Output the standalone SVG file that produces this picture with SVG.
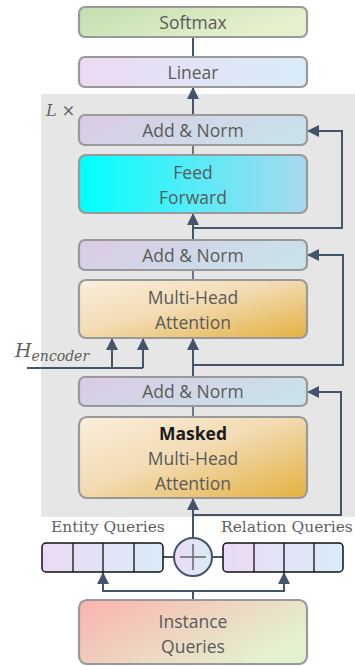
<svg xmlns="http://www.w3.org/2000/svg" width="355" height="666" viewBox="0 0 355 666">
<defs>
<linearGradient id="gSoft" x1="0" y1="0" x2="1" y2="0.4"><stop offset="0" stop-color="#c2deae"/><stop offset="1" stop-color="#e7f1cf"/></linearGradient>
<linearGradient id="gLin" x1="0" y1="0" x2="1" y2="0"><stop offset="0" stop-color="#ecdaf5"/><stop offset="1" stop-color="#d8ecf8"/></linearGradient>
<linearGradient id="gAdd" x1="0" y1="0" x2="1" y2="0.3"><stop offset="0" stop-color="#dccae4"/><stop offset="1" stop-color="#c8e1ea"/></linearGradient>
<linearGradient id="gFF" x1="0" y1="0" x2="1" y2="0"><stop offset="0" stop-color="#00ffff"/><stop offset="1" stop-color="#aad8ee"/></linearGradient>
<linearGradient id="gMHA" x1="0" y1="0" x2="1" y2="1"><stop offset="0" stop-color="#fbeedc"/><stop offset="0.45" stop-color="#f3dcb5"/><stop offset="1" stop-color="#e3b13f"/></linearGradient>
<linearGradient id="gInst" x1="0" y1="0" x2="1" y2="0.5"><stop offset="0" stop-color="#fab3ae"/><stop offset="1" stop-color="#e4f1d0"/></linearGradient>
<linearGradient id="gQ" x1="0" y1="0" x2="1" y2="0"><stop offset="0" stop-color="#ecdaf5"/><stop offset="1" stop-color="#d8ecf8"/></linearGradient>
<marker id="arr" viewBox="0 0 12 12" refX="12" refY="6" markerWidth="12" markerHeight="12" orient="auto" markerUnits="userSpaceOnUse"><path d="M0,0 L12,6 L0,12 z" fill="#44546a"/></marker>
</defs>
<style>
.box{stroke:#999999;stroke-width:2.2}
.t{font-family:"Open Sans","Noto Sans",sans-serif;font-size:17.5px;fill:#5a5a5a;text-anchor:middle}
.b{font-weight:bold;fill:#1a1a1a}
.s{font-family:"DejaVu Serif","Liberation Serif",serif;font-size:15.5px;fill:#5f5f5f}
.c{fill:none;stroke:#44546a;stroke-width:2}
.cl{fill:none;stroke:#44546a;stroke-width:1.5}
.q{fill:url(#gQ);stroke:#111;stroke-width:1.5}
.qd{stroke:#111;stroke-width:1.3}
</style>
<rect x="41" y="94" width="314" height="423" fill="#e6e6e6"/>
<text x="46" y="116" font-family="DejaVu Serif,serif" font-style="italic" font-size="16" fill="#5f5f5f">L ×</text>
<text x="15" y="357" font-family="DejaVu Serif,serif" font-style="italic" font-size="19" fill="#5f5f5f">H<tspan font-size="14" dy="4">encoder</tspan></text>

<g id="connectors">
<line class="c" x1="193" y1="37" x2="193" y2="57"/>
<line class="c" x1="193" y1="115" x2="193" y2="87" marker-end="url(#arr)"/>
<line class="cl" x1="193" y1="145" x2="193" y2="155"/>
<line class="c" x1="193" y1="240" x2="193" y2="213" marker-end="url(#arr)"/>
<polyline class="c" points="193,228 342,228 342,131 307,131" marker-end="url(#arr)"/>
<line class="cl" x1="193" y1="270" x2="193" y2="280"/>
<line class="c" x1="193" y1="377" x2="193" y2="338" marker-end="url(#arr)"/>
<polyline class="c" points="193,365 343,365 343,255 307,255" marker-end="url(#arr)"/>
<polyline class="c" points="27,368 143,368"/>
<line class="c" x1="112" y1="368" x2="112" y2="338" marker-end="url(#arr)"/>
<line class="c" x1="143" y1="368" x2="143" y2="338" marker-end="url(#arr)"/>
<line class="cl" x1="193" y1="406" x2="193" y2="417"/>
<line class="c" x1="193" y1="538" x2="193" y2="498" marker-end="url(#arr)"/>
<polyline class="c" points="193,515 341,515 341,392 307,392" marker-end="url(#arr)"/>
<line class="c" x1="163" y1="557" x2="174" y2="557"/>
<line class="c" x1="212" y1="557" x2="223" y2="557"/>
<line class="c" x1="193" y1="600" x2="193" y2="591"/>
<polyline class="c" points="103,580 103,591 284,591 284,580"/>
<line class="c" x1="103" y1="591" x2="103" y2="572" marker-end="url(#arr)"/>
<line class="c" x1="284" y1="591" x2="284" y2="572" marker-end="url(#arr)"/>
</g>

<g id="softmax"><rect class="box" x="79" y="7" width="228" height="30" rx="6" fill="url(#gSoft)"/><text class="t" x="193" y="28.5">Softmax</text></g>
<g id="linear"><rect class="box" x="79" y="57" width="228" height="30" rx="6" fill="url(#gLin)"/><text class="t" x="193" y="78.5">Linear</text></g>
<g id="addnorm1"><rect class="box" x="79" y="115" width="228" height="30" rx="6" fill="url(#gAdd)"/><text class="t" x="193" y="136.5">Add &amp; Norm</text></g>
<g id="feedforward"><rect class="box" x="79" y="155" width="228" height="58" rx="7" fill="url(#gFF)"/><text class="t" x="193" y="179">Feed</text><text class="t" x="193" y="204">Forward</text></g>
<g id="addnorm2"><rect class="box" x="79" y="240" width="228" height="30" rx="6" fill="url(#gAdd)"/><text class="t" x="193" y="261.5">Add &amp; Norm</text></g>
<g id="mha"><rect class="box" x="79" y="280" width="228" height="58" rx="7" fill="url(#gMHA)"/><text class="t" x="193" y="304">Multi-Head</text><text class="t" x="193" y="329">Attention</text></g>
<g id="addnorm3"><rect class="box" x="79" y="377" width="228" height="29" rx="6" fill="url(#gAdd)"/><text class="t" x="193" y="398">Add &amp; Norm</text></g>
<g id="masked-mha"><rect class="box" x="79" y="417" width="228" height="81" rx="8" fill="url(#gMHA)"/><text class="t b" x="193" y="440">Masked</text><text class="t" x="193" y="465">Multi-Head</text><text class="t" x="193" y="490">Attention</text></g>

<g id="entity-queries">
<text class="s" x="51" y="532">Entity Queries</text>
<rect class="q" x="42" y="543" width="121" height="29" rx="4"/>
<line class="qd" x1="73" y1="543" x2="73" y2="572"/><line class="qd" x1="103" y1="543" x2="103" y2="572"/><line class="qd" x1="134" y1="543" x2="134" y2="572"/>
</g>
<g id="relation-queries">
<text class="s" x="221" y="532">Relation Queries</text>
<rect class="q" x="223" y="543" width="120" height="29" rx="4"/>
<line class="qd" x1="254" y1="543" x2="254" y2="572"/><line class="qd" x1="284" y1="543" x2="284" y2="572"/><line class="qd" x1="314" y1="543" x2="314" y2="572"/>
</g>
<g id="plus"><circle cx="193" cy="557" r="19" fill="url(#gQ)" stroke="#44546a" stroke-width="2"/><path d="M180,557 H206 M193,544 V570" stroke="#666" stroke-width="1.5"/></g>
<g id="instance-queries"><rect class="box" x="79" y="600" width="228" height="64" rx="8" fill="url(#gInst)"/><text class="t" x="193" y="628">Instance</text><text class="t" x="193" y="653">Queries</text></g>
</svg>
